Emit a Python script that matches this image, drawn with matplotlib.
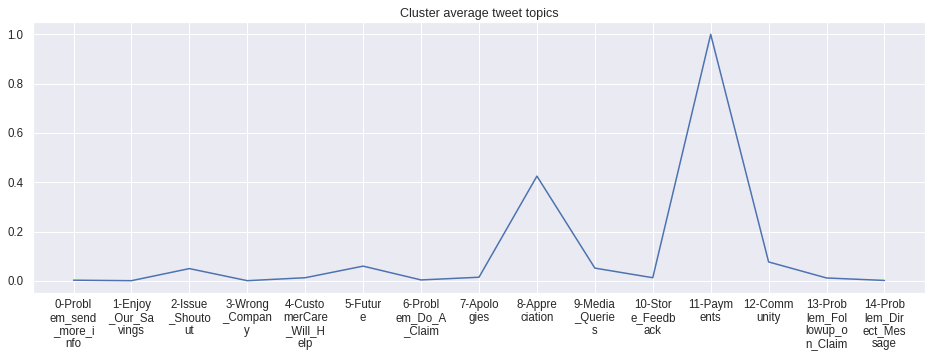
import matplotlib
matplotlib.use("Agg")
import matplotlib.pyplot as plt
import seaborn as sns

sns.set_theme()
plt.rcParams['font.family'] = ['Liberation Sans', 'DejaVu Sans']

topics = ['0-Problem_send_more_info', '1-Enjoy_Our_Savings', '2-Issue_Shoutout',
          '3-Wrong_Company', '4-CustomerCare_Will_Help', '5-Future',
          '6-Problem_Do_A_Claim', '7-Apologies', '8-Appreciation',
          '9-Media_Queries', '10-Store_Feedback', '11-Payments',
          '12-Community', '13-Problem_Followup_on_Claim', '14-Problem_Direct_Message']
avg = [0.003, 0.001, 0.050, 0.001, 0.013, 0.060, 0.004, 0.015,
       0.425, 0.052, 0.013, 1.000, 0.077, 0.012, 0.002]

# wrap every 7 characters
labels = ['\n'.join(t[i:i + 7] for i in range(0, len(t), 7)) for t in topics]
pos = list(range(len(topics)))

fig = plt.figure(figsize=(938/72, 354/72), dpi=72)
ax = fig.add_axes([33/938, 1 - 293/354, (925 - 33)/938, (293 - 22)/354])

ax.plot(pos, avg)
ax.set_xticks(pos)
ax.set_xticklabels(labels, fontsize=11.5, linespacing=1.12)
ax.tick_params(axis='x', pad=0)
ax.tick_params(axis='y', labelsize=11.5)
ax.set_title('Cluster average tweet topics', fontsize=12.5, pad=5)

fig.savefig('out.png', dpi=72)
